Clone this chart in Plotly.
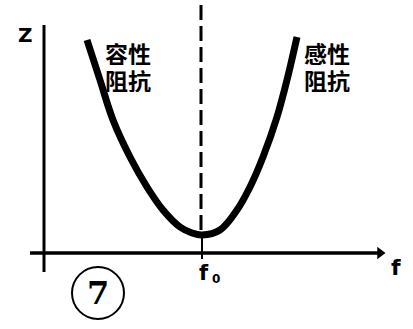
import plotly.graph_objects as go

# Impedance curve Z(f) (f and Z in picture units)
curve_f = [87, 100, 113, 130, 147, 163, 180, 192, 202, 220, 237, 250, 263, 277, 287, 297]
curve_z = [213, 173, 133, 96, 66, 43, 26, 20, 18, 23, 43, 66, 96, 136, 173, 216]

f0 = 201
axis_x_start, axis_x_end = 30, 386
axis_y_bottom, axis_y_top = -19, 228
yaxis_f = 44

label_left = ["容性", "阻抗"]
label_right = ["感性", "阻抗"]
figure_no = "7"

fig = go.Figure()

# resonance dashed line
fig.add_trace(go.Scatter(x=[f0, f0], y=[248, 20], mode="lines",
                         line=dict(color="black", width=3, dash="15px,6px"),
                         hoverinfo="skip", showlegend=False))
# Z axis
fig.add_trace(go.Scatter(x=[yaxis_f, yaxis_f], y=[axis_y_bottom, axis_y_top], mode="lines",
                         line=dict(color="black", width=3), hoverinfo="skip", showlegend=False))
# f axis
fig.add_trace(go.Scatter(x=[axis_x_start, axis_x_end - 8], y=[0, 0], mode="lines",
                         line=dict(color="black", width=3.5), hoverinfo="skip", showlegend=False))
# arrow head on f axis
fig.add_trace(go.Scatter(x=[axis_x_end - 6], y=[0], mode="markers",
                         marker=dict(symbol="triangle-right", size=11, color="black"),
                         hoverinfo="skip", showlegend=False))
# tick at f0
fig.add_trace(go.Scatter(x=[f0 + 1, f0 + 1], y=[-6, 18], mode="lines",
                         line=dict(color="black", width=2), hoverinfo="skip", showlegend=False))
# curve
fig.add_trace(go.Scatter(x=curve_f, y=curve_z, mode="lines",
                         line=dict(color="black", width=7, shape="spline", smoothing=1.0),
                         hoverinfo="skip", showlegend=False))

bold_font = dict(family="Noto Sans CJK SC", size=23, color="black")
for i, txt in enumerate(label_left):
    fig.add_annotation(x=104, y=201 - 27 * i, text="<b>" + txt + "</b>", showarrow=False,
                       font=bold_font, xanchor="left", height=25, borderpad=0)
for i, txt in enumerate(label_right):
    fig.add_annotation(x=303, y=201 - 27 * i, text="<b>" + txt + "</b>", showarrow=False,
                       font=bold_font, xanchor="left", height=25, borderpad=0)
fig.add_annotation(x=25, y=218, text="<b>Z</b>", showarrow=False,
                   font=dict(family="DejaVu Sans", size=20, color="black"))
fig.add_annotation(x=396, y=-14, text="<b>f</b>", showarrow=False,
                   font=dict(family="DejaVu Sans", size=22, color="black"))
fig.add_annotation(x=204, y=-20, text="<b>f</b>", showarrow=False,
                   font=dict(family="DejaVu Sans", size=21, color="black"))
fig.add_annotation(x=216, y=-26, text="<b>0</b>", showarrow=False,
                   font=dict(family="DejaVu Sans", size=12, color="black"))

# circled figure number
fig.add_shape(type="circle", x0=72, x1=124, y0=-66, y1=-14,
              line=dict(color="black", width=2))
fig.add_annotation(x=98, y=-40, text="<b>" + figure_no + "</b>", showarrow=False,
                   font=dict(family="DejaVu Serif", size=32, color="black"))

fig.update_xaxes(range=[0, 413], visible=False, fixedrange=True)
fig.update_yaxes(range=[-76, 253], visible=False, fixedrange=True)
fig.update_layout(width=413, height=329, margin=dict(l=0, r=0, t=0, b=0),
                  plot_bgcolor="white", paper_bgcolor="white", showlegend=False)

fig.write_html("out.html")
